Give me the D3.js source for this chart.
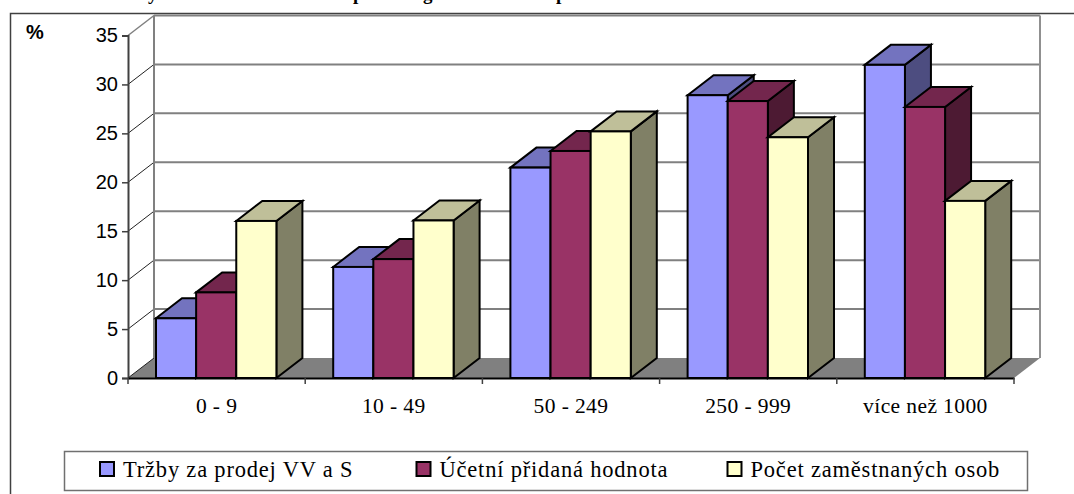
<!DOCTYPE html>
<html>
<head>
<meta charset="utf-8">
<script src="https://cdn.jsdelivr.net/npm/d3@7"></script>
<style>
    html, body { margin: 0; padding: 0; background: #fff; overflow: hidden; }
    svg { display: block; }
    .serif { font-family: "Liberation Serif", serif; fill: #000; }
    .sans { font-family: "Liberation Sans", sans-serif; fill: #000; }
</style>
</head>
<body>
<div id="chart"></div>
<script>
const categories = ["0 - 9", "10 - 49", "50 - 249", "250 - 999", "více než 1000"];
const seriesNames = ["Tržby za prodej VV a S", "Účetní přidaná hodnota", "Počet zaměstnaných osob"];
const trzby = [6.1, 11.35, 21.5, 28.9, 32.0];
const pridana = [8.75, 12.15, 23.2, 28.3, 27.7];
const zamestnani = [16.05, 16.1, 25.2, 24.6, 18.1];
const yTicks = [0, 5, 10, 15, 20, 25, 30, 35];

const seriesValues = [trzby, pridana, zamestnani];
const frontColors = ["#9999ff", "#993366", "#ffffcc"];
const topColors = ["#7373bf", "#73264d", "#bfbf99"];
const sideColors = ["#4d4d80", "#4d1a33", "#808066"];

const width = 1074,
    height = 494,
    depthX = 26,
    depthY = -20;   // 3d offset of the back wall

const svg = d3.select("#chart")
    .append("svg")
    .attr("width", width)
    .attr("height", height)
    .attr("viewBox", [0, 0, width, height]);

let x = d3.scaleBand()
    .domain(categories)
    .range([128, 1014]);

let xInner = d3.scaleBand()
    .domain(d3.range(seriesNames.length))
    .range([28, x.step() - 28.8]);

let y = d3.scaleLinear()
    .domain([0, 35])
    .range([378, 35.5]);

// outer frame, only top and left are in the picture
svg.append("path")
    .attr("d", `M10.5,494V13.5H${width}`)
    .attr("fill", "none")
    .attr("stroke", "#404040")
    .attr("stroke-width", 1.5);

// the clipped title: only the descenders are visible
svg.append("g")
    .selectAll("text")
    .data([["y", 148], ["p", 353], ["g", 423], ["p", 556]])
    .join("text")
    .attr("class", "serif")
    .attr("x", d => d[1])
    .attr("y", -0.5)
    .attr("font-size", 19)
    .attr("font-weight", "bold")
    .text(d => d[0]);

// floor
const x0 = x.range()[0], x1 = x.range()[1];
svg.append("path")
    .attr("d", `M${x0},${y(0)}L${x0 + depthX},${y(0) + depthY}H${x1 + depthX}L${x1},${y(0)}Z`)
    .attr("fill", "#808080");

// back wall grid and the diagonals on the side wall
svg.append("g")
    .selectAll("line")
    .data(yTicks.filter(d => d > 0))
    .join("line")
    .attr("x1", x0 + depthX)
    .attr("x2", x1 + depthX)
    .attr("y1", d => y(d) + depthY)
    .attr("y2", d => y(d) + depthY)
    .attr("stroke", "#808080")
    .attr("stroke-width", 2);

svg.append("g")
    .selectAll("line")
    .data(yTicks)
    .join("line")
    .attr("x1", x0)
    .attr("x2", x0 + depthX)
    .attr("y1", d => y(d))
    .attr("y2", d => y(d) + depthY)
    .attr("stroke", d => d === 35 ? "#808080" : "#222")
    .attr("stroke-width", d => d === 35 ? 1.5 : 1);

svg.append("line")
    .attr("x1", x0 + depthX).attr("x2", x0 + depthX)
    .attr("y1", y(35) + depthY).attr("y2", y(0) + depthY)
    .attr("stroke", "#808080").attr("stroke-width", 2);

svg.append("line")
    .attr("x1", x1 + depthX).attr("x2", x1 + depthX)
    .attr("y1", y(35) + depthY).attr("y2", y(0) + depthY)
    .attr("stroke", "#909090").attr("stroke-width", 2);

// axes
let yAxis = svg.append("g")
    .attr("transform", `translate(${x0},0)`)
    .call(d3.axisLeft(y)
        .tickValues(yTicks)
        .tickSize(6)
        .tickPadding(4)
        .tickFormat(d3.format("d")));

yAxis.selectAll("text")
    .attr("class", "sans")
    .attr("font-size", 20)
    .style("font-family", '"Liberation Sans", sans-serif');
yAxis.selectAll("line").attr("stroke", "#404040").attr("stroke-width", 1.5);
yAxis.select(".domain").attr("stroke", "#404040").attr("stroke-width", 2);

// bars, back to front inside each group so the later bar covers the side of the earlier
const bars = svg.append("g");
categories.forEach((cat, c) => {
    seriesNames.forEach((name, s) => {
        const v = seriesValues[s][c];
        const left = x(cat) + xInner(s);
        const right = left + xInner.bandwidth();
        const top = y(v), bottom = y(0);
        const g = bars.append("g")
            .attr("stroke", "#000")
            .attr("stroke-width", 2)
            .attr("stroke-linejoin", "miter");
        g.append("path")
            .attr("fill", sideColors[s])
            .attr("d", `M${right},${top}L${right + depthX},${top + depthY}V${bottom + depthY}L${right},${bottom}Z`);
        g.append("path")
            .attr("fill", topColors[s])
            .attr("d", `M${left},${top}L${left + depthX},${top + depthY}H${right + depthX}L${right},${top}Z`);
        g.append("rect")
            .attr("fill", frontColors[s])
            .attr("x", left)
            .attr("y", top)
            .attr("width", right - left)
            .attr("height", bottom - top);
    });
});

let xAxis = svg.append("g")
    .attr("transform", `translate(0,${y(0)})`)
    .call(d3.axisBottom(x)
        .tickSize(0)
        .tickPadding(20));

xAxis.select(".domain").attr("stroke", "#000").attr("stroke-width", 2);
xAxis.selectAll("text")
    .attr("class", "serif")
    .attr("font-size", 21.5)
    .attr("letter-spacing", 0.4)
    .style("font-family", '"Liberation Serif", serif');

// ticks sit on the band edges, not on the centres
xAxis.append("g")
    .selectAll("line")
    .data(d3.range(categories.length + 1))
    .join("line")
    .attr("x1", d => x0 + d * x.step())
    .attr("x2", d => x0 + d * x.step())
    .attr("y1", 0)
    .attr("y2", 6)
    .attr("stroke", "#404040")
    .attr("stroke-width", 1.5);

// % label
svg.append("text")
    .attr("class", "sans")
    .attr("x", 26)
    .attr("y", 39)
    .attr("font-size", 20)
    .attr("font-weight", "bold")
    .text("%");

// legend
const legendX = [100, 416.5, 727.5];
const legend = svg.append("g");
legend.append("rect")
    .attr("x", 64.5).attr("y", 451.5)
    .attr("width", 963).attr("height", 39)
    .attr("fill", "#fff")
    .attr("stroke", "#707070")
    .attr("stroke-width", 1.5);

seriesNames.forEach((name, s) => {
    legend.append("rect")
        .attr("x", legendX[s])
        .attr("y", 462)
        .attr("width", 14)
        .attr("height", 14)
        .attr("fill", frontColors[s])
        .attr("stroke", "#000")
        .attr("stroke-width", 2);
    legend.append("text")
        .attr("class", "serif")
        .attr("x", legendX[s] + 23)
        .attr("y", 477)
        .attr("font-size", 22.5)
        .attr("letter-spacing", 0.8)
        .text(name);
});
</script>
</body>
</html>
